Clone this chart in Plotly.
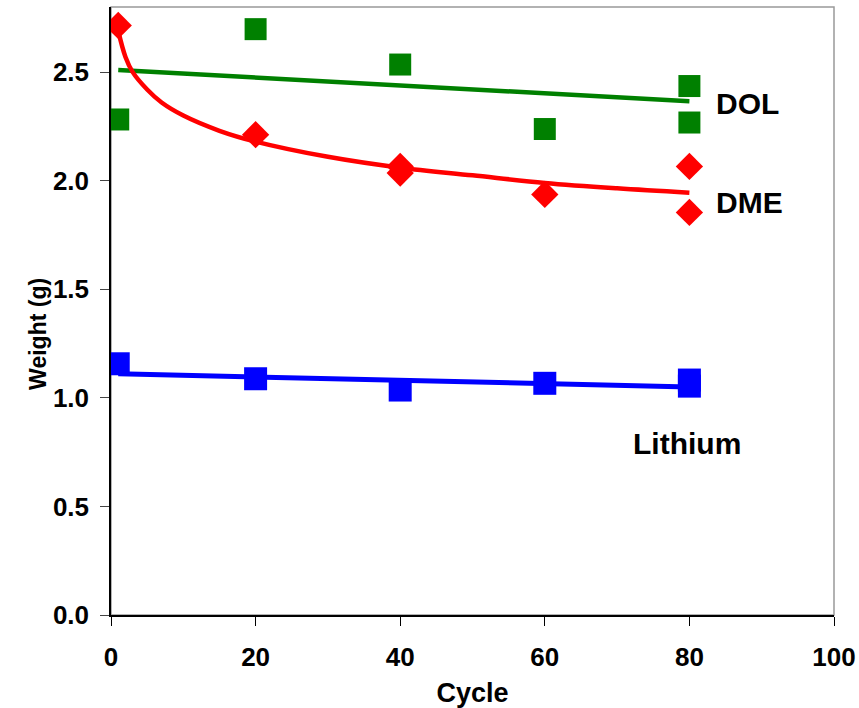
import plotly.graph_objects as go

# ---- data ----
dol_cycle = [1, 20, 40, 60, 80, 80]
dol_weight = [2.282, 2.698, 2.535, 2.238, 2.436, 2.268]

dme_cycle = [1, 20, 40, 40, 60, 80, 80]
dme_weight = [2.715, 2.212, 2.066, 2.035, 1.937, 2.066, 1.854]

li_cycle = [1, 20, 40, 60, 80, 80]
li_weight = [1.157, 1.088, 1.036, 1.067, 1.082, 1.054]

# trend lines
dol_trend_cycle = [1, 80]
dol_trend_weight = [2.510, 2.366]

dme_trend_cycle = [1, 2, 3, 5, 7, 10, 15, 20, 30, 40, 50, 60, 70, 80]
dme_trend_weight = [2.69, 2.57, 2.50, 2.42, 2.36, 2.30, 2.23, 2.18, 2.11,
                    2.06, 2.025, 1.99, 1.965, 1.945]

li_trend_cycle = [1, 80]
li_trend_weight = [1.111, 1.050]

labels = ["DOL", "DME", "Lithium"]
label_x = [88.0, 88.3, 79.7]
label_y = [2.356, 1.90, 0.79]

x_ticks = [0, 20, 40, 60, 80, 100]
y_ticks = [0.0, 0.5, 1.0, 1.5, 2.0, 2.5]

GREEN = "#008000"
RED = "#FF0000"
BLUE = "#0000FF"
FONT = "Arial, Liberation Sans, sans-serif"

fig = go.Figure()

# lines first
fig.add_trace(go.Scatter(x=dol_trend_cycle, y=dol_trend_weight, mode="lines",
                         line=dict(color=GREEN, width=4.5), hoverinfo="skip"))
fig.add_trace(go.Scatter(x=dme_trend_cycle, y=dme_trend_weight, mode="lines",
                         line=dict(color=RED, width=4.5, shape="spline"), hoverinfo="skip"))
fig.add_trace(go.Scatter(x=li_trend_cycle, y=li_trend_weight, mode="lines",
                         line=dict(color=BLUE, width=5), hoverinfo="skip"))

# markers
fig.add_trace(go.Scatter(x=dol_cycle, y=dol_weight, mode="markers",
                         marker=dict(symbol="square", size=22, color=GREEN)))
fig.add_trace(go.Scatter(x=dme_cycle, y=dme_weight, mode="markers",
                         marker=dict(symbol="diamond", size=21, color=RED)))
fig.add_trace(go.Scatter(x=li_cycle, y=li_weight, mode="markers",
                         marker=dict(symbol="square", size=23, color=BLUE)))

for t, x, y in zip(labels, label_x, label_y):
    fig.add_annotation(x=x, y=y, text=t, showarrow=False, xref="x", yref="y",
                       font=dict(family=FONT, size=30, color="black", weight="bold"))

# y-axis title (placed as annotation to match offset)
fig.add_annotation(x=-0.122, y=0.462, xref="paper", yref="paper", text="Weight (g)",
                   textangle=-90, showarrow=False,
                   font=dict(family=FONT, size=23, color="black", weight="bold"))

# gray frame on top/right
fig.add_shape(type="rect", xref="paper", yref="paper", x0=0, x1=1, y0=0, y1=1,
              line=dict(color="#999999", width=1.5), layer="below")

fig.update_layout(
    width=859, height=708,
    margin=dict(l=111, r=25, t=7, b=93, autoexpand=False),
    paper_bgcolor="white", plot_bgcolor="white",
    showlegend=False,
    font=dict(family=FONT, color="black"),
)

fig.update_xaxes(
    range=[0, 100], tickvals=x_ticks, ticktext=[str(v) for v in x_ticks],
    showgrid=False, zeroline=False, showline=True, linecolor="black", linewidth=2,
    ticks="outside", ticklen=9, tickwidth=1, tickcolor="black", automargin=False,
    tickfont=dict(family=FONT, size=26, color="black", weight="bold"),
    ticklabelstandoff=9,
    title=dict(text="Cycle", font=dict(family=FONT, size=27, color="black", weight="bold"),
               standoff=12),
)
fig.update_yaxes(
    range=[0, 2.8], tickvals=y_ticks, ticktext=[f"{v:.1f}" for v in y_ticks],
    showgrid=False, zeroline=False, showline=True, linecolor="black", linewidth=1.5,
    ticks="outside", ticklen=9, tickwidth=1, tickcolor="#444444", automargin=False,
    tickfont=dict(family=FONT, size=26, color="black", weight="bold"),
    ticklabelstandoff=6,
)

fig.write_html("out.html")
